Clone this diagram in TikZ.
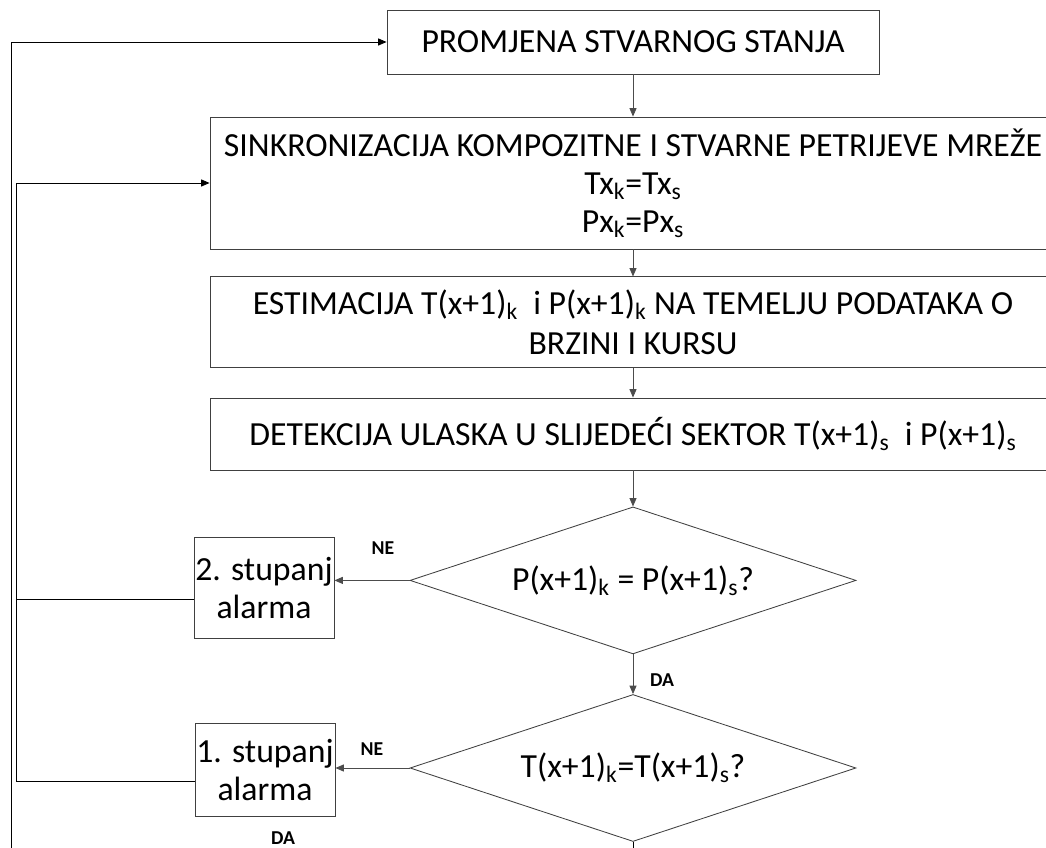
\documentclass[tikz,border=0pt]{standalone}
\usepackage{fontspec}
\setmainfont{Carlito}
\usetikzlibrary{shapes.geometric,arrows.meta}
\begin{document}
\begin{tikzpicture}[
  font=\fontsize{24}{27}\selectfont,
  box/.style={draw=black!75, line width=0.6pt, align=center, inner sep=0pt},
  wide/.style={box, minimum width=21.15cm},
  alarm/.style={box, minimum width=3.5cm},
  dec/.style={draw=black!75, line width=0.6pt, diamond, aspect=3.03, inner sep=0pt, minimum width=11.15cm, minimum height=3.675cm},
  flow/.style={draw=black!70, line width=0.6pt, -{Triangle[length=6pt,width=5pt]}},
  back/.style={draw=black, line width=0.6pt},
  lab/.style={font=\fontsize{14}{16}\selectfont\bfseries}]
\useasboundingbox (0,0) rectangle (26.15,-21.2);
\node[box, minimum width=12.3cm, minimum height=1.6cm] (a) at (15.825,-1.05) {PROMJENA STVARNOG STANJA};
\node[wide, minimum height=3.3cm] (b) at (15.825,-4.575) {SINKRONIZACIJA KOMPOZITNE I STVARNE PETRIJEVE MREŽE\\ Tx\textsubscript{k}=Tx\textsubscript{s}\\ Px\textsubscript{k}=Px\textsubscript{s}};
\node[wide, minimum height=2.275cm] (c) at (15.825,-8.06) {ESTIMACIJA T(x+1)\textsubscript{k}\ \ i P(x+1)\textsubscript{k} NA TEMELJU PODATAKA O\\[2pt] BRZINI I KURSU};
\node[wide, minimum height=1.8cm] (d) at (15.825,-10.85) {DETEKCIJA ULASKA U SLIJEDEĆI SEKTOR T(x+1)\textsubscript{s}\ \ i P(x+1)\textsubscript{s}};
\node[dec] (e) at (15.825,-14.51) {P(x+1)\textsubscript{k} = P(x+1)\textsubscript{s}?};
\node[dec] (f) at (15.825,-19.2) {T(x+1)\textsubscript{k}=T(x+1)\textsubscript{s}?};
\node[alarm, minimum height=2.525cm] (g) at (6.6,-14.69) {2. stupanj\\ alarma};
\node[alarm, minimum height=2.325cm] (h) at (6.625,-19.26) {1. stupanj\\ alarma};
\node[lab] (ne1) at (9.575,-13.7) {NE};
\node[lab] (ne2) at (9.3,-18.725) {NE};
\node[lab] (da1) at (16.55,-17.0) {DA};
\node[lab] (da2) at (7.075,-20.95) {DA};
\coordinate (p) at (0.4,-14.975);
\coordinate (q) at (0.4,-19.525);
\coordinate (z) at (0.275,-21.5);
\draw[flow] (a) -- (b);
\draw[flow] (b) -- (c);
\draw[flow] (c) -- (d);
\draw[flow] (d) -- (e);
\draw[flow] (e) -- (f);
\draw[flow] (e.west) -- (e.west -| g.east);
\draw[flow] (f.west) -- (f.west -| h.east);
\draw[back] ([yshift=-0.285cm]g.west) -- (p);
\draw[back, -{Triangle[length=6pt,width=5pt]}] ([yshift=-0.265cm]h.west) -- (q) |- (b.west);
\draw[back, -{Triangle[length=6pt,width=5pt]}] (f.south) -- (f.south |- z) -- (z) |- (a.west);
\end{tikzpicture}
\end{document}
